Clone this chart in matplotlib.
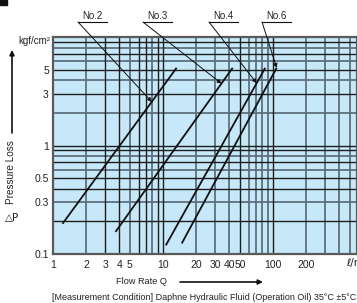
import matplotlib
matplotlib.use('Agg')
import matplotlib.pyplot as plt
from matplotlib.patches import Rectangle
import numpy as np

W, H = 357, 303

# pressure loss lines, end points (Q in l/min, dP in kgf/cm2)
models = ['No.2', 'No.3', 'No.4', 'No.6']
flow_ends = [[1.22, 13.3], [3.7, 43], [10.6, 85], [14.8, 108]]
loss_ends = [[0.19, 5.2], [0.16, 5.2], [0.12, 5.2], [0.125, 5.2]]
# flow rate where each leader arrow meets its line
arrow_q = [7.9, 34, 71, 108]
label_px = [92, 157, 223, 276]   # label centres, pixels from the left

x_ticks = [1, 2, 3, 4, 5, 10, 20, 30, 40, 50, 100, 200]
y_ticks = [0.1, 0.3, 0.5, 1, 3, 5]
x_grid_dark = [3, 4, 6, 7, 9, 10, 50, 100]
x_grid_grey = [2, 5, 8, 20, 30, 40, 60, 70, 80, 90, 200, 300, 400, 500]
y_grid_dark = [0.2, 0.4, 0.5, 0.7, 0.9, 1, 3, 5, 7, 9]
y_grid_grey = [0.3, 0.6, 0.8, 2, 4, 6, 8]

FONT = ['Liberation Sans', 'DejaVu Sans']
plt.rcParams['font.family'] = FONT
TXT = '#222222'

def fx(px):
    return px / W

def fy(py):
    return 1 - py / H

fig = plt.figure(figsize=(W / 100, H / 100), dpi=100)
ax = fig.add_axes([fx(53), fy(254), 1 - fx(53), fy(37) - fy(254)])
ax.set_xscale('log')
ax.set_yscale('log')
ax.set_xlim(1, 10 ** ((W - 53) / 110))
ax.set_ylim(0.1, 10)
ax.set_facecolor('#c6e8f8')

dark, grey = '#1e1e1e', '#5d707c'
for v in x_grid_grey:
    ax.axvline(v, color=grey, lw=1.3, zorder=1)
for v in y_grid_grey:
    ax.axhline(v, color=grey, lw=1.3, zorder=1)
for v in x_grid_dark:
    ax.axvline(v, color=dark, lw=1.0, zorder=2)
for v in y_grid_dark:
    ax.axhline(v, color=dark, lw=1.0, zorder=2)

for s in ax.spines.values():
    s.set_color('#5a5a5a')
    s.set_linewidth(1.6)
    s.set_zorder(5)

for q, p in zip(flow_ends, loss_ends):
    ax.plot(q, p, color='#111111', lw=1.3, zorder=4, solid_capstyle='butt')

ax.set_xticks(x_ticks)
ax.set_xticklabels([str(t) for t in x_ticks])
for t, lab in zip(x_ticks, ax.get_xticklabels()):
    if t in (40, 50):
        lab.set_fontsize(5.5)
ax.set_yticks(y_ticks)
ax.set_yticklabels([str(t) for t in y_ticks])
ax.minorticks_off()
ax.tick_params(length=0, labelsize=7.5, colors=TXT)
ax.tick_params(axis='x', pad=4)
ax.tick_params(axis='y', pad=3)

# leader lines from the model labels down to the curves
for name, q, p, pq, cx in zip(models, flow_ends, loss_ends, arrow_q, label_px):
    k = np.log(p[1] / p[0]) / np.log(q[1] / q[0])
    pp = p[0] * (pq / q[0]) ** k
    left = cx - 14
    ax.annotate('', xy=(pq, pp), xycoords='data',
                xytext=(fx(left), fy(22)), textcoords='figure fraction',
                arrowprops=dict(arrowstyle='-|>', lw=0.7, color='#111111',
                                mutation_scale=6, shrinkA=0, shrinkB=0),
                zorder=6, annotation_clip=False)
    fig.add_artist(plt.Line2D([fx(left), fx(cx + 15)], [fy(22), fy(22)],
                              color='#111111', lw=0.8))
    fig.text(fx(cx), fy(16), name, ha='center', va='center', fontsize=7,
             color=TXT)

# cut-off heading marker
fig.add_artist(Rectangle((0, fy(5)), fx(7), 1 - fy(5), color='#111111',
                         transform=fig.transFigure))

fig.text(fx(50), fy(41), 'kgf/cm²', ha='right', va='center', fontsize=7,
         color=TXT)
ax.annotate('', xy=(fx(12), fy(50)), xycoords='figure fraction',
            xytext=(fx(12), fy(133)), textcoords='figure fraction',
            arrowprops=dict(arrowstyle='-|>', lw=1.2, color='#111111',
                            mutation_scale=7, shrinkA=0, shrinkB=0))
fig.text(fx(11), fy(172), 'Pressure Loss', rotation=90, ha='center',
         va='center', fontsize=7.2, color=TXT)
fig.text(fx(12), fy(218), '△P', ha='center', va='center', fontsize=7.5,
         color=TXT, family=['DejaVu Sans'])

fig.text(fx(346), fy(263), 'ℓ/min', ha='left', va='center', fontsize=7.5,
         color=TXT, family=['DejaVu Sans'])

fig.text(fx(116), fy(282), 'Flow Rate Q', ha='left', va='center',
         fontsize=6.6, color=TXT)
ax.annotate('', xy=(fx(263), fy(282)), xycoords='figure fraction',
            xytext=(fx(180), fy(282)), textcoords='figure fraction',
            arrowprops=dict(arrowstyle='-|>', lw=1.2, color='#111111',
                            mutation_scale=7, shrinkA=0, shrinkB=0))
fig.text(fx(356), fy(297),
         '[Measurement Condition] Daphne Hydraulic Fluid (Operation Oil) 35°C ±5°C',
         ha='right', va='center', fontsize=6.5, color=TXT)

fig.savefig('out.png', dpi=100)
